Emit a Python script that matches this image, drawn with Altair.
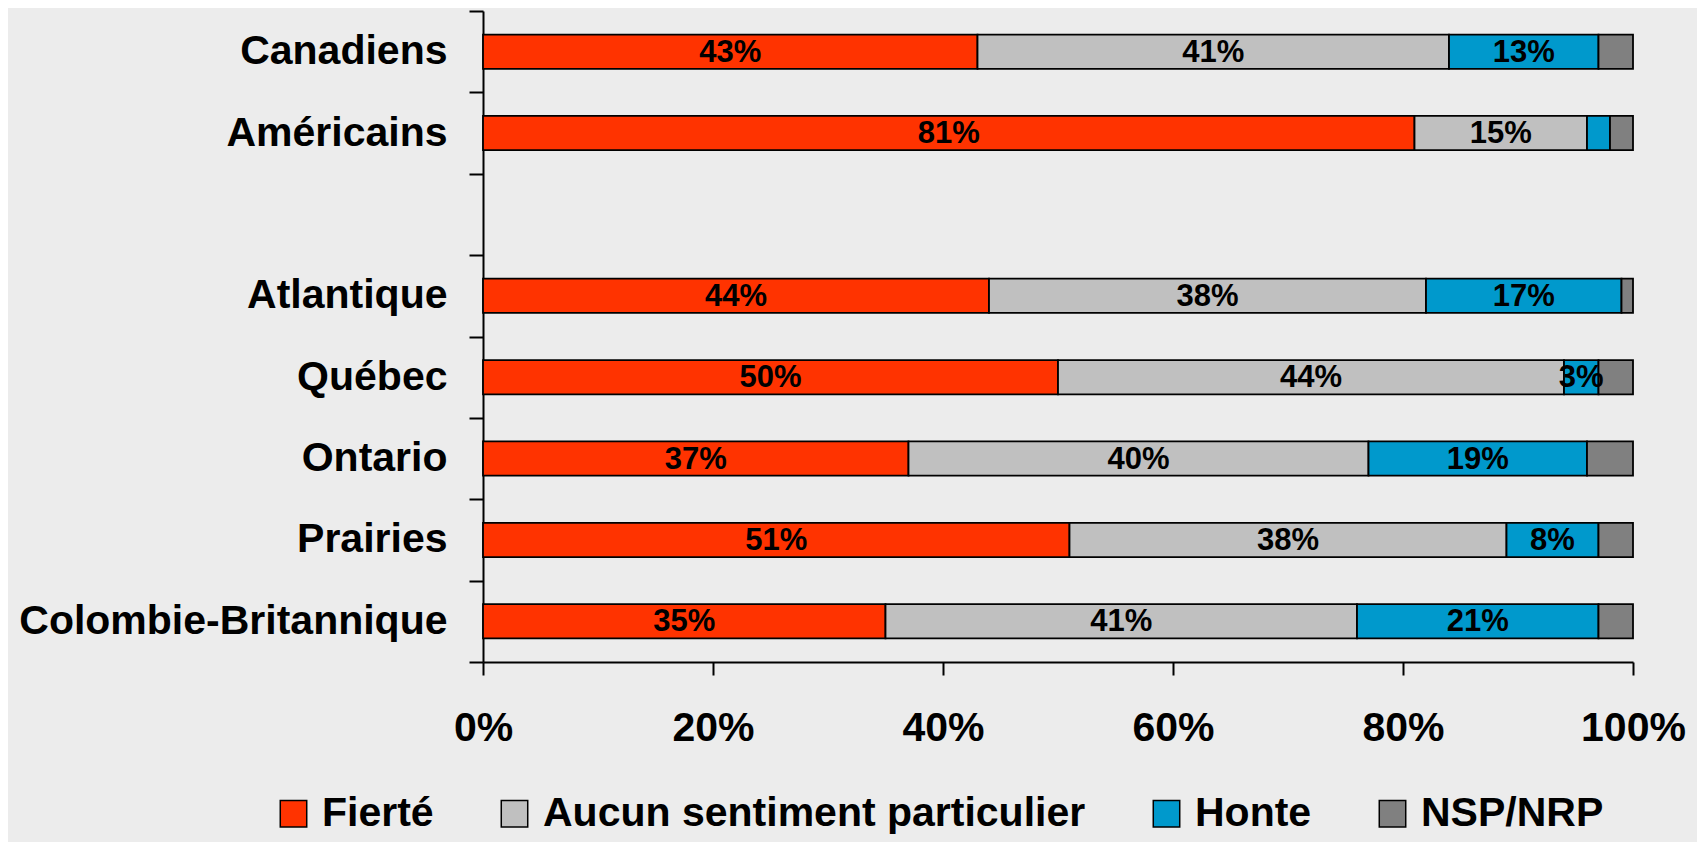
import altair as alt
import pandas as pd

groups = ["Canadiens", "Américains", " ", "Atlantique", "Québec", "Ontario", "Prairies", "Colombie-Britannique"]
rows = ["Canadiens", "Américains", "Atlantique", "Québec", "Ontario", "Prairies", "Colombie-Britannique"]
series = ["Fierté", "Aucun sentiment particulier", "Honte", "NSP/NRP"]
colors = ["#FF3300", "#C0C0C0", "#0099CC", "#808080"]

fierte = [43, 81, 44, 50, 37, 51, 35]
aucun = [41, 15, 38, 44, 40, 38, 41]
honte = [13, 2, 17, 3, 19, 8, 21]
nsp = [3, 2, 1, 3, 4, 3, 3]

records = []
for s_i, (s, vals) in enumerate(zip(series, [fierte, aucun, honte, nsp])):
    for r, v in zip(rows, vals):
        records.append({"groupe": r, "reponse": s, "ordre": s_i, "valeur": v,
                        "show": 1 if (s != "NSP/NRP" and v >= 3) else 0})
df = pd.DataFrame(records)

FONT = "Liberation Sans"

base = alt.Chart(df).transform_stack(
    stack="valeur", groupby=["groupe"], sort=[alt.SortField("ordre")], as_=["x0", "x1"]
).transform_calculate(mid="(datum.x0 + datum.x1) / 2")

yenc = alt.Y("groupe:N", sort=groups,
             scale=alt.Scale(domain=groups, paddingInner=0, paddingOuter=0),
             axis=alt.Axis(title=None, tickBand="extent", domainColor="black", domainWidth=2,
                           tickColor="black", tickWidth=2, tickSize=14, labelLimit=1000,
                           labelFont=FONT, labelFontSize=41, labelFontWeight="bold",
                           labelColor="black", labelPadding=22))

bars = base.mark_bar(stroke="black", strokeWidth=1.8, height={"band": 0.42}).encode(
    x=alt.X("x0:Q", scale=alt.Scale(domain=[0, 100], nice=False),
            axis=alt.Axis(title=None, values=[0, 20, 40, 60, 80, 100], grid=False,
                          labelExpr="datum.value + '%'", domainColor="black", domainWidth=2,
                          tickColor="black", tickWidth=2, tickSize=13, labelFlush=False,
                          labelFont=FONT, labelFontSize=41, labelFontWeight="bold",
                          labelColor="black", labelPadding=33)),
    x2="x1:Q",
    y=yenc,
    color=alt.Color("reponse:N", sort=series,
                    scale=alt.Scale(domain=series, range=colors),
                    legend=alt.Legend(title=None, orient="none", direction="horizontal",
                                      legendX=-210, legendY=782,
                                      symbolType="square", symbolSize=700,
                                      symbolStrokeColor="black", symbolStrokeWidth=1.5,
                                      labelFont=FONT, labelFontSize=41, labelFontWeight="bold",
                                      labelColor="black", labelOffset=8, columnPadding=60,
                                      labelLimit=800)),
)

labels = base.transform_filter("datum.show == 1").mark_text(
    font=FONT, fontSize=31, fontWeight="bold", color="black", baseline="middle", dy=1
).encode(
    x="mid:Q",
    y=alt.Y("groupe:N", sort=groups),
    text=alt.Text("label:N"),
).transform_calculate(label="datum.valeur + '%'")

chart = alt.layer(bars, labels).properties(
    width=1150, height=651,
    autosize=alt.AutoSizeParams(type="none"),
    padding={"left": 475, "top": 3, "right": 64, "bottom": 180},
    background="#ececec",
).configure_view(stroke=None)

chart.save("out.html", embed_options={"renderer": "svg", "actions": False})
